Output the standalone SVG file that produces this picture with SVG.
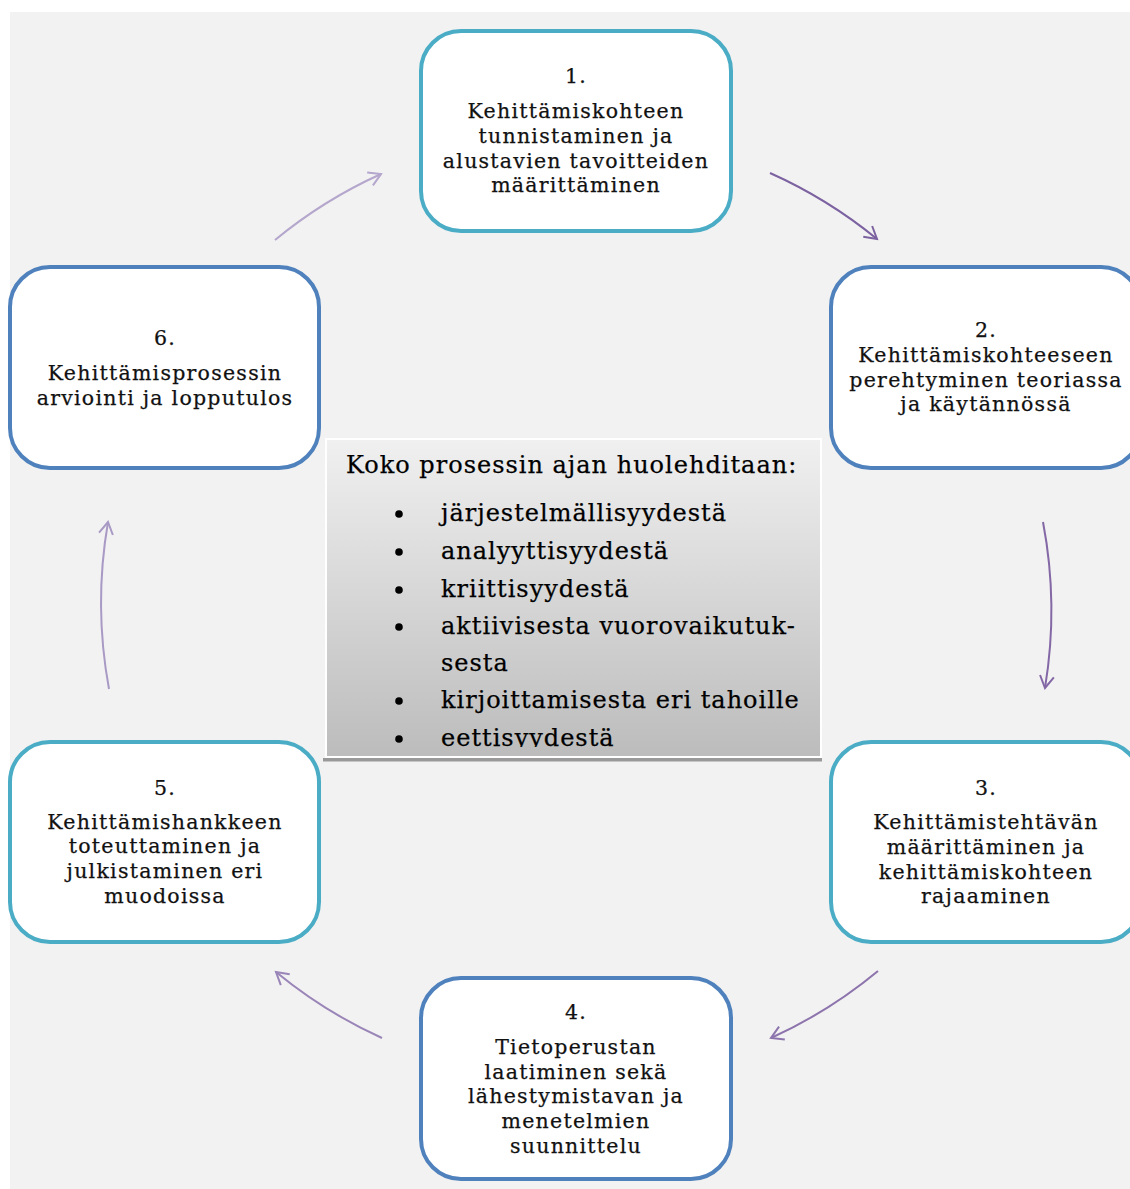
<svg xmlns="http://www.w3.org/2000/svg" width="1130" height="1189" viewBox="0 0 1130 1189">
<defs>
<style>
.node rect{fill:#ffffff;stroke-width:4}
.teal rect{stroke:#4bacc6}
.blue rect{stroke:#4f81bd}
.t{font-family:"DejaVu Serif","Liberation Serif",serif;font-size:20.5px;fill:#111111;stroke:#111111;stroke-width:0.25px;text-anchor:middle;letter-spacing:1.25px}
.c{font-family:"DejaVu Serif","Liberation Serif",serif;font-size:24px;fill:#000000;stroke:#000000;stroke-width:0.25px;letter-spacing:1px}
.arr{fill:none;stroke-width:2}
</style>
<linearGradient id="g" x1="0" y1="0" x2="0" y2="1">
<stop offset="0" stop-color="#f0f0f0"/>
<stop offset="1" stop-color="#bcbcbc"/>
</linearGradient>
<clipPath id="clipc"><rect x="327" y="440" width="493" height="307"/></clipPath>
<marker id="m1" viewBox="0 0 20 20" refX="14" refY="10" markerWidth="20" markerHeight="20" markerUnits="userSpaceOnUse" orient="auto"><path d="M2,3 L14,10 L2,17" fill="none" stroke="#7c62a0" stroke-width="2"/></marker>
<marker id="m2" viewBox="0 0 20 20" refX="14" refY="10" markerWidth="20" markerHeight="20" markerUnits="userSpaceOnUse" orient="auto"><path d="M2,3 L14,10 L2,17" fill="none" stroke="#8468a6" stroke-width="2"/></marker>
<marker id="m3" viewBox="0 0 20 20" refX="14" refY="10" markerWidth="20" markerHeight="20" markerUnits="userSpaceOnUse" orient="auto"><path d="M2,3 L14,10 L2,17" fill="none" stroke="#8d74ad" stroke-width="2"/></marker>
<marker id="m4" viewBox="0 0 20 20" refX="14" refY="10" markerWidth="20" markerHeight="20" markerUnits="userSpaceOnUse" orient="auto"><path d="M2,3 L14,10 L2,17" fill="none" stroke="#9a85b8" stroke-width="2"/></marker>
<marker id="m5" viewBox="0 0 20 20" refX="14" refY="10" markerWidth="20" markerHeight="20" markerUnits="userSpaceOnUse" orient="auto"><path d="M2,3 L14,10 L2,17" fill="none" stroke="#a999c5" stroke-width="2"/></marker>
<marker id="m6" viewBox="0 0 20 20" refX="14" refY="10" markerWidth="20" markerHeight="20" markerUnits="userSpaceOnUse" orient="auto"><path d="M2,3 L14,10 L2,17" fill="none" stroke="#b4a6cc" stroke-width="2"/></marker>
</defs>
<rect x="0" y="0" width="1130" height="1189" fill="#ffffff"/>
<rect x="10" y="12" width="1120" height="1177" fill="#f2f2f2"/>

<g id="connectors">
<path class="arr" d="M770,173 A474,474 0 0 1 877,239" stroke="#7c62a0" marker-end="url(#m1)"/>
<path class="arr" d="M1043,522 A474,474 0 0 1 1045,688" stroke="#8468a6" marker-end="url(#m2)"/>
<path class="arr" d="M878,971 A474,474 0 0 1 771,1038" stroke="#8d74ad" marker-end="url(#m3)"/>
<path class="arr" d="M382,1038 A474,474 0 0 1 276,972" stroke="#9a85b8" marker-end="url(#m4)"/>
<path class="arr" d="M109,689 A474,474 0 0 1 108,522" stroke="#a999c5" marker-end="url(#m5)"/>
<path class="arr" d="M275,240 A474,474 0 0 1 381,174" stroke="#b4a6cc" marker-end="url(#m6)"/>
</g>

<g id="center">
<rect x="323" y="758" width="499" height="3.5" fill="#999999"/>
<rect x="325" y="438" width="497" height="320" fill="#ffffff"/>
<rect x="327" y="440" width="493" height="316" fill="url(#g)"/>
<text class="c" x="346" y="473">Koko prosessin ajan huolehditaan:</text>
<g fill="#000000">
<circle cx="399" cy="514" r="3.8"/>
<circle cx="399" cy="552" r="3.8"/>
<circle cx="399" cy="590" r="3.8"/>
<circle cx="399" cy="627" r="3.8"/>
<circle cx="399" cy="701" r="3.8"/>
<circle cx="399" cy="739" r="3.8"/>
</g>
<g clip-path="url(#clipc)">
<text class="c" x="441" y="521">järjestelmällisyydestä</text>
<text class="c" x="441" y="559">analyyttisyydestä</text>
<text class="c" x="441" y="597">kriittisyydestä</text>
<text class="c" x="441" y="634">aktiivisesta vuorovaikutuk-</text>
<text class="c" x="441" y="671">sesta</text>
<text class="c" x="441" y="708">kirjoittamisesta eri tahoille</text>
<text class="c" x="441" y="746">eettisyydestä</text>
</g>
</g>

<g id="node1" class="node teal">
<rect x="421" y="31" width="310" height="200" rx="40"/>
<text class="t" x="576" y="83">1.</text>
<text class="t" x="576" y="118">Kehittämiskohteen</text>
<text class="t" x="576" y="143">tunnistaminen ja</text>
<text class="t" x="576" y="168">alustavien tavoitteiden</text>
<text class="t" x="576" y="192">määrittäminen</text>
</g>

<g id="node2" class="node blue">
<rect x="831" y="267" width="310" height="201" rx="40"/>
<text class="t" x="986" y="337">2.</text>
<text class="t" x="986" y="362">Kehittämiskohteeseen</text>
<text class="t" x="986" y="387">perehtyminen teoriassa</text>
<text class="t" x="986" y="411">ja käytännössä</text>
</g>

<g id="node3" class="node teal">
<rect x="831" y="742" width="310" height="200" rx="40"/>
<text class="t" x="986" y="795">3.</text>
<text class="t" x="986" y="829">Kehittämistehtävän</text>
<text class="t" x="986" y="854">määrittäminen ja</text>
<text class="t" x="986" y="879">kehittämiskohteen</text>
<text class="t" x="986" y="903">rajaaminen</text>
</g>

<g id="node4" class="node blue">
<rect x="421" y="978" width="310" height="201" rx="40"/>
<text class="t" x="576" y="1019">4.</text>
<text class="t" x="576" y="1054">Tietoperustan</text>
<text class="t" x="576" y="1079">laatiminen sekä</text>
<text class="t" x="576" y="1103">lähestymistavan ja</text>
<text class="t" x="576" y="1128">menetelmien</text>
<text class="t" x="576" y="1153">suunnittelu</text>
</g>

<g id="node5" class="node teal">
<rect x="10" y="742" width="309" height="200" rx="40"/>
<text class="t" x="165" y="795">5.</text>
<text class="t" x="165" y="829">Kehittämishankkeen</text>
<text class="t" x="165" y="853">toteuttaminen ja</text>
<text class="t" x="165" y="878">julkistaminen eri</text>
<text class="t" x="165" y="903">muodoissa</text>
</g>

<g id="node6" class="node blue">
<rect x="10" y="267" width="309" height="201" rx="40"/>
<text class="t" x="165" y="345">6.</text>
<text class="t" x="165" y="380">Kehittämisprosessin</text>
<text class="t" x="165" y="405">arviointi ja lopputulos</text>
</g>
</svg>
